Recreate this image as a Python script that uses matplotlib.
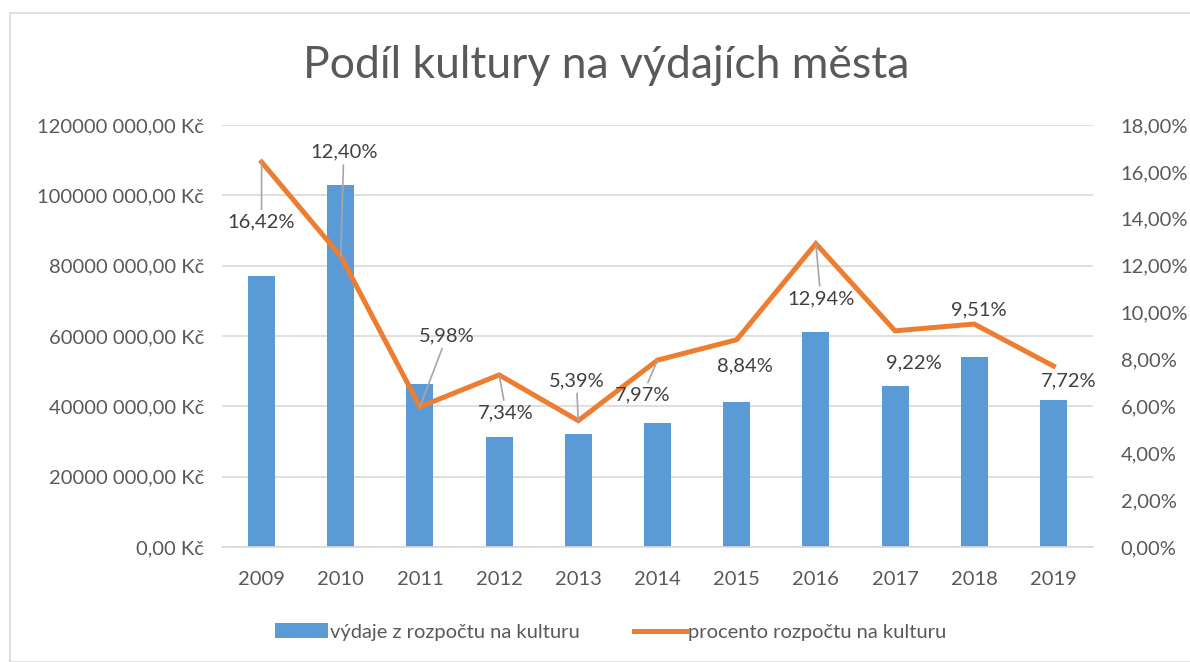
import matplotlib.pyplot as plt
from matplotlib.patches import Rectangle
from matplotlib.ticker import FuncFormatter

plt.rcParams['font.family'] = ['Lato', 'DejaVu Sans']

# data
years = ["2009", "2010", "2011", "2012", "2013", "2014", "2015", "2016", "2017", "2018", "2019"]
vydaje = [77.1e6, 103.0e6, 46.3e6, 31.2e6, 32.2e6, 35.2e6, 41.3e6, 61.0e6, 45.9e6, 54.1e6, 41.7e6]
procento = [16.42, 12.40, 5.98, 7.34, 5.39, 7.97, 8.84, 12.94, 9.22, 9.51, 7.72]
# label offsets in pixels and whether a leader line is drawn
label_offsets = [(0, -60), (3, 104), (27, 71), (7, -38), (-2, 40), (-15, -35),
                 (8, -26), (5, -55), (19, -32), (5, 14), (15, -15)]
leaders = [True, True, True, True, True, True, False, True, False, False, False]

txt = "#595959"
grid = "#d9d9d9"
fs = 14.5

fig = plt.figure(figsize=(11.9, 6.62), dpi=100)
fig.patches.append(Rectangle((10 / 1190, 0), 1.2, 1 - 13 / 662, transform=fig.transFigure,
                             fill=False, edgecolor=grid, linewidth=1.2))
ax = fig.add_axes([222 / 1190, 1 - 547 / 662, 871 / 1190, 422 / 662])
ax2 = ax.twinx()

x = list(range(len(years)))
ax.bar(x, vydaje, width=0.34, color="#5b9bd5", label="výdaje z rozpočtu na kulturu", zorder=2)
ax.set_ylim(0, 120e6)
ax.set_yticks([i * 20e6 for i in range(7)])
ax.yaxis.set_major_formatter(FuncFormatter(lambda v, p: "%d 000,00 Kč" % (v / 1000) if v else "0,00 Kč"))
ax.set_xlim(-0.5, 10.5)
ax.set_xticks(x, years)
ax.grid(axis="y", color=grid, linewidth=1.2, zorder=0)
ax.set_axisbelow(True)

ax2.plot(x, procento, color="#ed7d31", linewidth=3.6, solid_joinstyle="miter",
         label="procento rozpočtu na kulturu", zorder=3)
ax2.set_ylim(0, 18)
ax2.set_yticks(range(0, 19, 2))
ax2.yaxis.set_major_formatter(FuncFormatter(lambda v, p: ("%.2f%%" % v).replace(".", ",")))

for i, p in enumerate(procento):
    arrow = dict(arrowstyle="-", color="#a6a6a6", lw=1.2, shrinkA=1, shrinkB=0) if leaders[i] else None
    ax2.annotate(("%.2f%%" % p).replace(".", ","), xy=(i, p), xytext=label_offsets[i],
                 textcoords="offset pixels", ha="center", va="center", fontsize=fs,
                 color="#404040", arrowprops=arrow, zorder=4)

for a in (ax, ax2):
    for s in a.spines.values():
        s.set_visible(False)
    a.tick_params(length=0, colors=txt, labelsize=fs)
ax.spines["bottom"].set_visible(True)
ax.spines["bottom"].set_color(grid)
ax.spines["bottom"].set_linewidth(1.2)
ax.tick_params(axis="y", pad=13)
ax.tick_params(axis="x", pad=17)
ax2.tick_params(axis="y", pad=20)

fig.text(606 / 1190, 1 - 65 / 662, "Podíl kultury na výdajích města", ha="center", va="center",
         fontsize=32, color=txt)

h1, l1 = ax.get_legend_handles_labels()
h2, l2 = ax2.get_legend_handles_labels()
fig.legend(h1 + h2, l1 + l2, loc="center", bbox_to_anchor=(611 / 1190, 1 - 632 / 662), ncol=2,
           frameon=False, fontsize=fs, labelcolor=txt, handlelength=2.6, handletextpad=0.1,
           columnspacing=2.7)

fig.savefig("out.png", dpi=100)
